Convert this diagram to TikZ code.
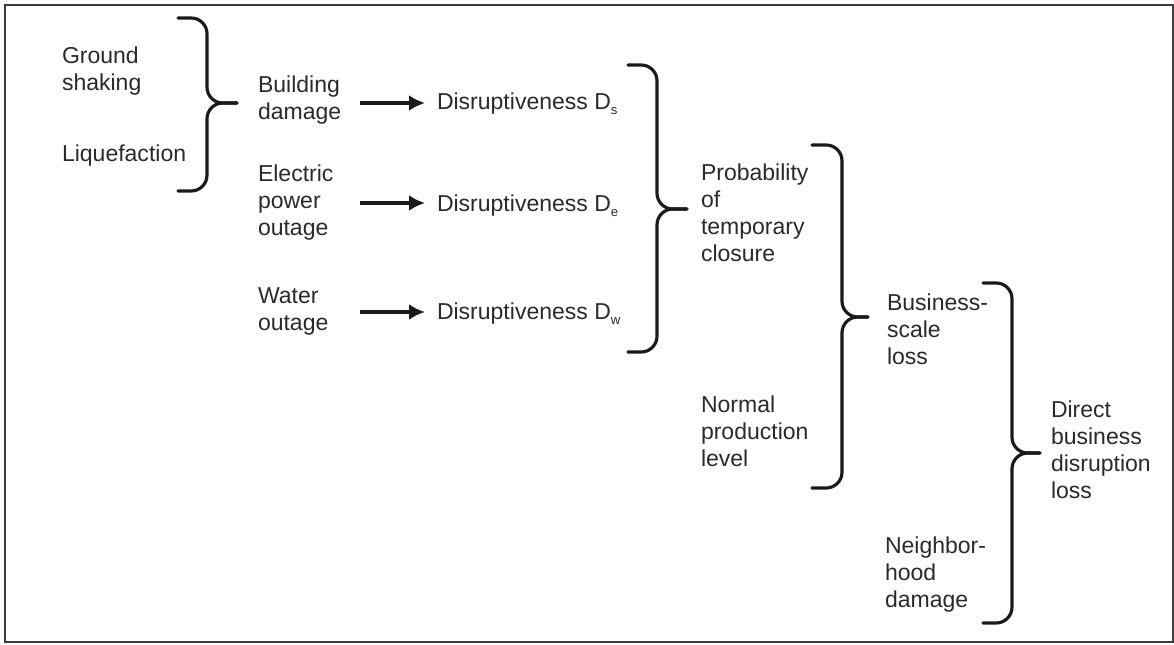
\documentclass[tikz,border=0pt]{standalone}
\usepackage{fontspec}
\setmainfont{Liberation Sans}
\usetikzlibrary{arrows.meta,calc}
\definecolor{txt}{HTML}{2A2A2A}
\definecolor{ink}{HTML}{1A1A1A}
\newcommand\mybrace[6]{% x0, top, xv, bottom, mid, tick
  \draw[brk] (#1,#2) -- (#3,#2) -- (#3,#5) [rounded corners=3] -- (#6,#5);
  \draw[brk] (#1,#4) -- (#3,#4) -- (#3,#5) [rounded corners=3] -- (#6,#5);
}
\newcommand\sbs[1]{\raisebox{-0.45ex}{\fontsize{7.5pt}{8pt}\selectfont #1}}
\begin{document}
\begin{tikzpicture}[x=0.02cm,y=-0.02cm,
  lbl/.style={anchor=west,align=left,inner sep=0pt,outer sep=0pt,text=txt,
    font=\fontsize{13.1pt}{15.4pt}\selectfont,
    execute at begin node=\strut, execute at end node=\strut},
  brk/.style={draw=ink,line width=1.8pt,rounded corners=9,line cap=round},
  arr/.style={draw=ink,line width=2pt,-{Latex[length=9pt,width=9pt]}},
  frame/.style={draw=ink!85,line width=0.9pt}]
\useasboundingbox (0,0) rectangle (1174,645);
\draw[frame] (5,5) rectangle (1173,642);

% nodes
\node[lbl] (gs)  at (62,73) {Ground\\shaking};
\node[lbl] (liq) at (62,156) {Liquefaction};
\node[lbl] (bd)  at (258,102) {Building\\damage};
\node[lbl] (epo) at (258,204) {Electric\\power\\outage};
\node[lbl] (wo)  at (258,313.5) {Water\\outage};
\node[lbl] (ds)  at (437,104) {Disruptiveness D\sbs{s}};
\node[lbl] (de)  at (437,206) {Disruptiveness D\sbs{e}};
\node[lbl] (dw)  at (437,314) {Disruptiveness D\sbs{w}};
\node[lbl] (ptc) at (701,216.5) {Probability\\of\\temporary\\closure};
\node[lbl] (npl) at (701,435) {Normal\\production\\level};
\node[lbl] (bsl) at (887,333) {Business-\\scale\\loss};
\node[lbl] (nhd) at (885,576) {Neighbor-\\hood\\damage};
\node[lbl] (dbdl) at (1051,454) {Direct\\business\\disruption\\loss};

% arrows
\draw[arr] ($(ds.west)+(-77,-1)$) -- ($(ds.west)+(-12,-1)$);
\draw[arr] ($(de.west)+(-77,-3)$) -- ($(de.west)+(-12,-3)$);
\draw[arr] ($(dw.west)+(-77,-2)$) -- ($(dw.west)+(-12,-2)$);

% brackets
\mybrace{178}{18}{207}{191}{103}{237}
\mybrace{628}{65}{657}{352}{209}{687}
\mybrace{812}{145}{842}{488}{317}{868}
\mybrace{983}{283}{1012}{623}{453}{1040}
\end{tikzpicture}
\end{document}
